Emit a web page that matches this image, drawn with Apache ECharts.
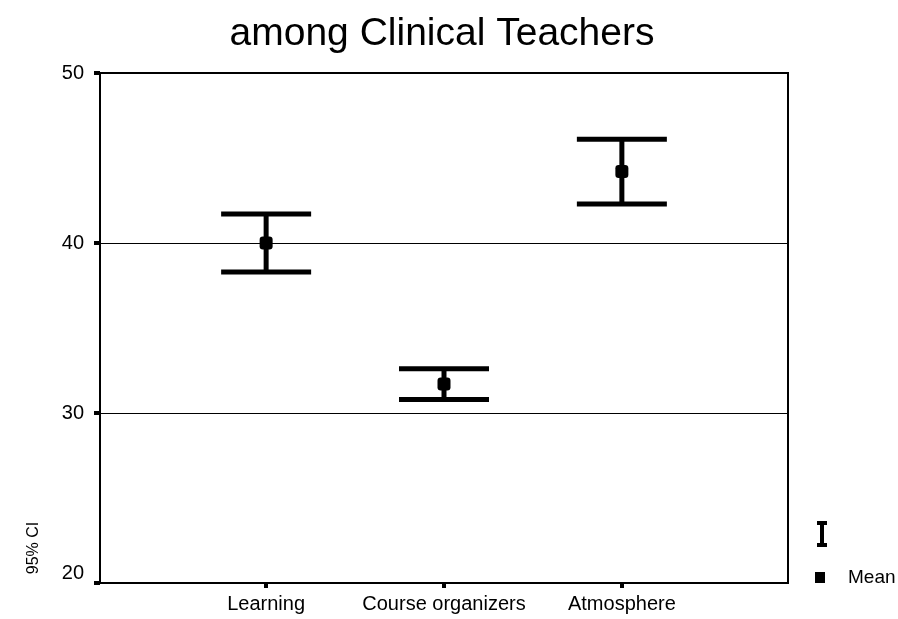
<!DOCTYPE html>
<html>
<head>
<meta charset="utf-8">
<script src="https://cdn.jsdelivr.net/npm/echarts@6/dist/echarts.min.js"></script>
<style>
html,body{margin:0;padding:0;background:#fff;}
#chart{width:898px;height:619px;}
</style>
</head>
<body>
<div id="chart"></div>
<script>
const titleText = 'among Clinical Teachers';
const categories = ['Learning', 'Course organizers', 'Atmosphere'];
const meanValues = [40.0, 31.7, 44.2];
const lowerCI = [38.3, 30.8, 42.3];
const upperCI = [41.7, 32.6, 46.1];
const yTickValues = [20, 30, 40, 50];
const yAxisName = '95% CI';
const meanName = 'Mean';

const FONT = '"Liberation Sans", Arial, sans-serif';
const chart = echarts.init(document.getElementById('chart'), null, {renderer: 'canvas'});

const catPositions = categories.map((c, i) => i + 1);
const ciData = categories.map((c, i) => [i + 1, lowerCI[i], upperCI[i]]);
const meanData = categories.map((c, i) => [i + 1, meanValues[i]]);

function renderErrorBar(params, api) {
  const x = api.value(0);
  const lo = api.coord([x, api.value(1)]);
  const hi = api.coord([x, api.value(2)]);
  const half = 45;
  const style = {stroke: '#000', lineWidth: 5, lineCap: 'butt'};
  return {
    type: 'group',
    children: [
      {type: 'line', shape: {x1: hi[0], y1: hi[1], x2: lo[0], y2: lo[1]}, style: style},
      {type: 'line', shape: {x1: hi[0] - half, y1: hi[1], x2: hi[0] + half, y2: hi[1]}, style: style},
      {type: 'line', shape: {x1: lo[0] - half, y1: lo[1], x2: lo[0] + half, y2: lo[1]}, style: style}
    ]
  };
}

const option = {
  animation: false,
  backgroundColor: '#fff',
  title: {
    text: titleText,
    left: 437,
    textAlign: 'center',
    top: 10,
    textStyle: {fontFamily: FONT, fontSize: 39, fontWeight: 'normal', color: '#000'}
  },
  grid: {
    left: 100, right: 110, top: 73, bottom: 36,
    show: true, borderColor: '#000', borderWidth: 2, backgroundColor: 'transparent'
  },
  legend: [
    {
      data: [{name: 'CI', icon: 'path://M0,0L10,0L10,4L7,4L7,22L10,22L10,26L0,26L0,22L3,22L3,4L0,4Z'}],
      left: 812, top: 515, itemWidth: 10, itemHeight: 28,
      selectedMode: false,
      formatter: function () { return ''; },
      textStyle: {fontFamily: FONT, fontSize: 18, color: '#000'}
    },
    {
      data: [{name: meanName, icon: 'rect'}],
      left: 810, top: 563, itemWidth: 10, itemHeight: 11,
      selectedMode: false,
      textStyle: {fontFamily: FONT, fontSize: 19, color: '#000', padding: [0, 0, 0, 18]}
    }
  ],
  xAxis: {
    type: 'value',
    min: 0.066, max: 3.934,
    axisLine: {show: true, lineStyle: {color: '#000', width: 2}},
    axisTick: {show: true, customValues: catPositions, length: 5, lineStyle: {color: '#000', width: 4}},
    axisLabel: {
      show: true, customValues: catPositions, margin: 11,
      fontFamily: FONT, fontSize: 20, color: '#000',
      formatter: function (v) { return categories[Math.round(v) - 1] || ''; }
    },
    splitLine: {show: false}
  },
  yAxis: {
    type: 'value',
    min: 20, max: 50, interval: 10,
    axisLine: {show: true, lineStyle: {color: '#000', width: 2}},
    axisTick: {show: true, length: 6, lineStyle: {color: '#000', width: 4}},
    axisLabel: {
      margin: 16, fontFamily: FONT, fontSize: 20, color: '#000', lineHeight: 20,
      formatter: function (v) { return v === yTickValues[0] ? v + '\n' : String(v); }
    },
    splitLine: {show: true, lineStyle: {color: '#000', width: 1}}
  },
  graphic: [
    {
      type: 'text', x: 34, y: 548, rotation: Math.PI / 2,
      style: {text: yAxisName, align: 'center', verticalAlign: 'middle', fill: '#000', font: '16px ' + FONT}
    }
  ],
  series: [
    {
      name: 'CI', type: 'custom', renderItem: renderErrorBar,
      data: ciData, itemStyle: {color: '#000'}, z: 3,
      encode: {x: 0, y: [1, 2]}
    },
    {
      name: meanName, type: 'scatter', data: meanData,
      symbol: 'roundRect', symbolSize: 13, itemStyle: {color: '#000', opacity: 1}, z: 4
    }
  ]
};
chart.setOption(option);
</script>
</body>
</html>
